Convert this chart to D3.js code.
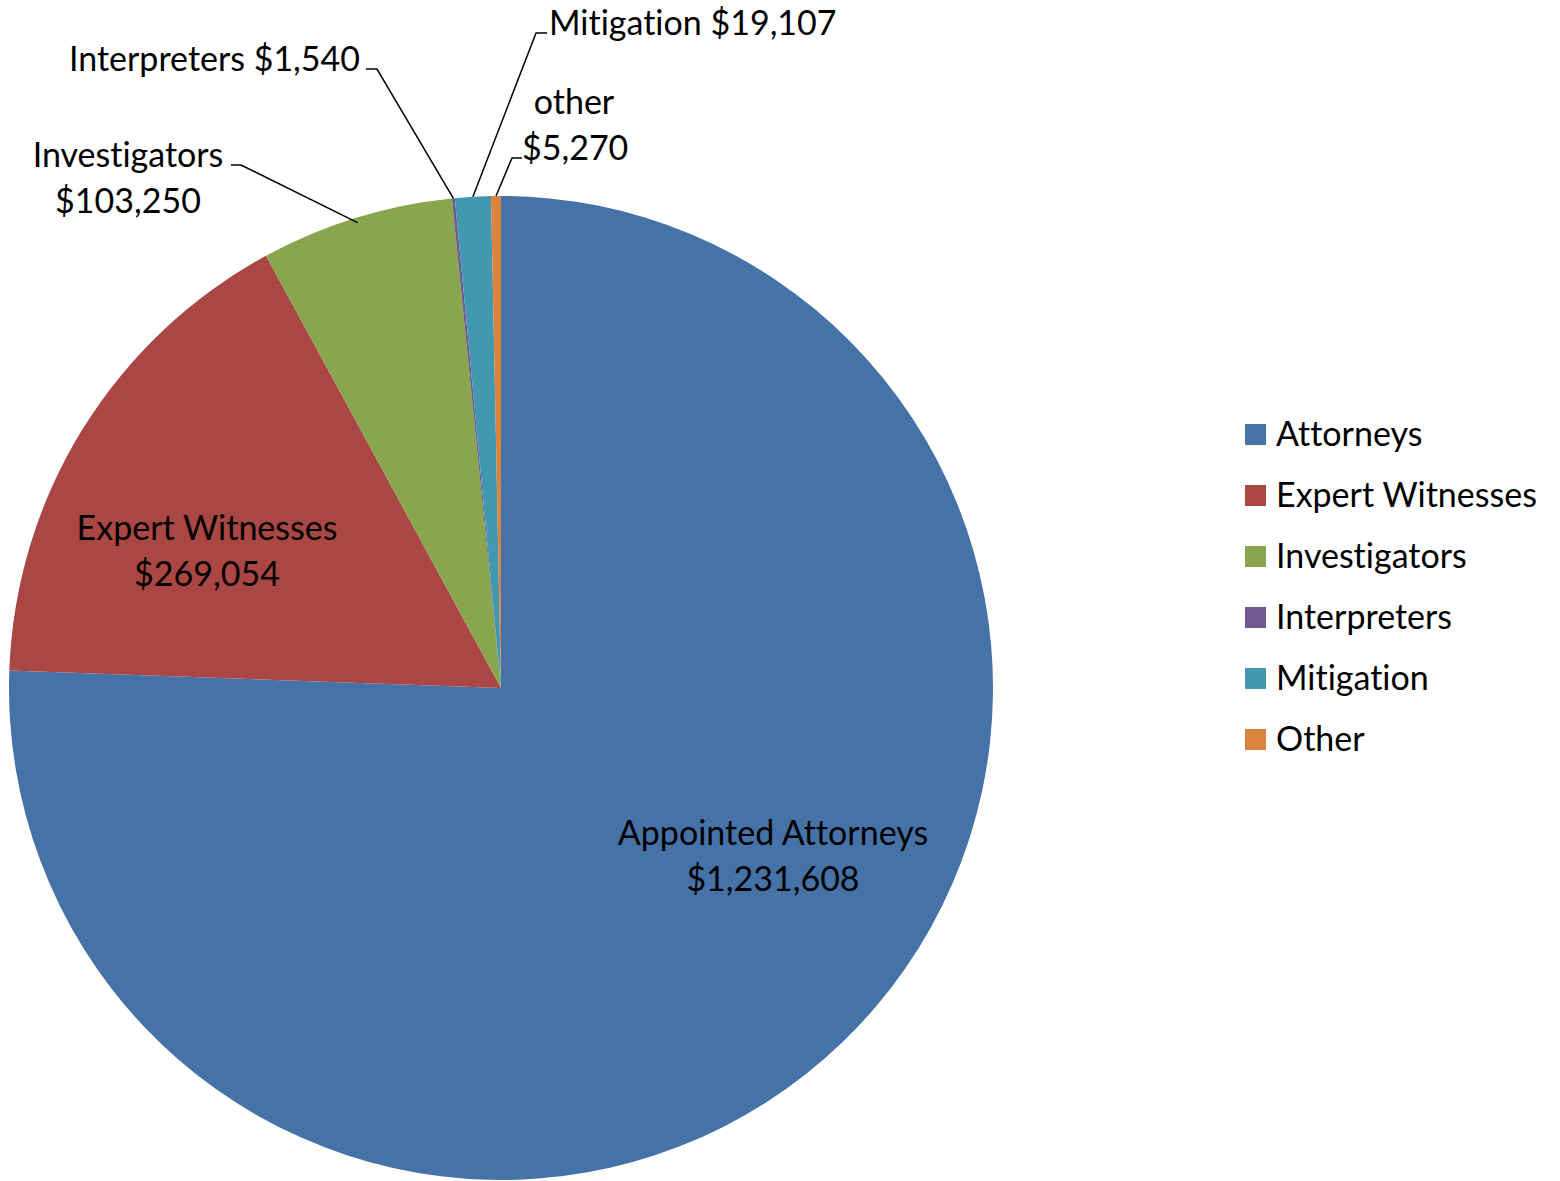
<!DOCTYPE html>
<html lang="en">
<meta charset="utf-8">
<head>
<style>
  body { margin: 0; background: #fff; }
  text { font-family: Lato, "Open Sans", sans-serif; fill: #000; font-variant-ligatures: none; }
</style>
<script src="https://d3js.org/d3.v7.min.js"></script>
</head>
<body>
<script>
// data
var categories = ["Attorneys", "Expert Witnesses", "Investigators", "Interpreters", "Mitigation", "Other"];
var values = [1231608, 269054, 103250, 1540, 19107, 5270];
var labelNames = ["Appointed Attorneys", "Expert Witnesses", "Investigators", "Interpreters", "Mitigation", "other"];
var colors = ["#4572A7", "#AA4643", "#89A54E", "#71588F", "#4198AF", "#DB843D"];

var width = 1560, height = 1181;
var cx = 501, cy = 688, radius = 492;
var fontSize = 34;

var svg = d3.select("body").append("svg")
    .attr("width", width)
    .attr("height", height);

var pie = d3.pie().sort(null)(values);
var arc = d3.arc().innerRadius(0).outerRadius(radius);

var g = svg.append("g").attr("transform", "translate(" + cx + "," + cy + ")");

g.selectAll("path")
    .data(pie)
    .enter()
    .append("path")
    .attr("d", arc)
    .attr("fill", function (d, i) { return colors[i]; });

var fmt = function (v) { return "$" + d3.format(",")(v); };

// label layout: x, y, anchor, text lines, leader elbow
var labels = [
    { i: 0, x: 773, y: 845, anchor: "middle", lines: [labelNames[0], fmt(values[0])] },
    { i: 1, x: 207, y: 540, anchor: "middle", lines: [labelNames[1], fmt(values[1])] },
    { i: 2, x: 128, y: 167, anchor: "middle", lines: [labelNames[2], fmt(values[2])], lead: [[231, 165], [241, 165]] },
    { i: 3, x: 360, y: 71, anchor: "end", lines: [labelNames[3] + " " + fmt(values[3])], lead: [[366, 69], [377, 69]] },
    { i: 4, x: 549, y: 35, anchor: "start", lines: [labelNames[4] + " " + fmt(values[4])], lead: [[547, 33], [536, 33]] },
    { i: 5, x: 574, y: 114, anchor: "middle", lines: [labelNames[5], fmt(values[5])], lead: [[522, 158], [512, 158]] }
];

var lineHeight = 46;

labels.forEach(function (l) {
    var t = svg.append("text")
        .attr("x", l.x)
        .attr("y", l.y)
        .attr("text-anchor", l.anchor)
        .style("font-size", fontSize + "px");
    l.lines.forEach(function (s, k) {
        t.append("tspan")
            .attr("x", k === 1 && l.i === 5 ? 522 : l.x)
            .attr("text-anchor", k === 1 && l.i === 5 ? "start" : l.anchor)
            .attr("dy", k === 0 ? 0 : lineHeight)
            .text(s);
    });
    if (l.lead) {
        var d = pie[l.i];
        var a = (d.startAngle + d.endAngle) / 2;
        var r = l.i === 2 ? radius - 5 : radius;
        var px = cx + Math.sin(a) * r;
        var py = cy - Math.cos(a) * r;
        svg.append("path")
            .attr("d", d3.line()(l.lead.concat([[px, py]])))
            .attr("fill", "none")
            .attr("stroke", "#000")
            .attr("stroke-width", 1.5);
    }
});

// legend
var legend = svg.append("g").attr("transform", "translate(1245, 424)");
var rows = legend.selectAll("g")
    .data(categories)
    .enter()
    .append("g")
    .attr("transform", function (d, i) { return "translate(0," + i * 61 + ")"; });
rows.append("rect")
    .attr("width", 21)
    .attr("height", 21)
    .attr("fill", function (d, i) { return colors[i]; });
rows.append("text")
    .attr("x", 31)
    .attr("y", 22)
    .style("font-size", fontSize + "px")
    .text(function (d) { return d; });
</script>
</body>
</html>
